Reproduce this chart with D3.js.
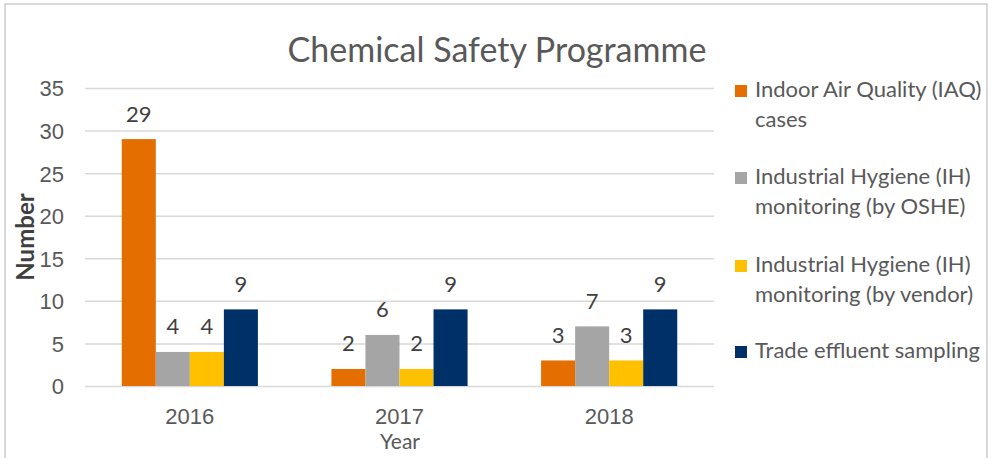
<!DOCTYPE html>
<html>
<head>
<meta charset="utf-8">
<script src="https://cdn.jsdelivr.net/npm/d3@7"></script>
<style>
	body { margin: 0; background: #fff; }
	svg { display: block; font-family: Lato, "Open Sans", sans-serif; }
	.axis path { display: none; }
	.y-axis line { stroke: #d9d9d9; stroke-width: 1.5; }
	.axis text { fill: #595959; font-size: 22px; }
	.x-axis line { display: none; }
</style>
</head>
<body>
<div id="chart"></div>
<script>
// chart data
const years = ["2016", "2017", "2018"];
const seriesNames = [
	"Indoor Air Quality (IAQ) cases",
	"Industrial Hygiene (IH) monitoring (by OSHE)",
	"Industrial Hygiene (IH) monitoring (by vendor)",
	"Trade effluent sampling"
];
// legend text split on two lines like the original
const legendLines = [
	["Indoor Air Quality (IAQ)", "cases"],
	["Industrial Hygiene (IH)", "monitoring (by OSHE)"],
	["Industrial Hygiene (IH)", "monitoring (by vendor)"],
	["Trade effluent sampling"]
];
const iaqValues = [29, 2, 3];
const ihOsheValues = [4, 6, 7];
const ihVendorValues = [4, 2, 3];
const effluentValues = [9, 9, 9];
const yTicks = [0, 5, 10, 15, 20, 25, 30, 35];
const colors = ["#e46f00", "#a5a5a5", "#ffc000", "#003068"];

const seriesValues = [iaqValues, ihOsheValues, ihVendorValues, effluentValues];

const width = 995, height = 458;
const margin = {top: 88, right: 281, bottom: 72, left: 85};

let svg = d3.select("#chart").append("svg")
	.attr("width", width)
	.attr("height", height);

// outer chart frame
svg.append("rect")
	.attr("x", 5).attr("y", 4)
	.attr("width", 982).attr("height", 470)
	.attr("fill", "none")
	.attr("stroke", "#d9d9d9")
	.attr("stroke-width", 2);

// scales
let y = d3.scaleLinear()
	.domain([0, 35])
	.range([height - margin.bottom, margin.top]);

let x0 = d3.scaleBand()
	.domain(years)
	.range([margin.left, width - margin.right])
	.padding(0);

let x1 = d3.scaleBand()
	.domain(d3.range(seriesNames.length))
	.range([0, x0.bandwidth()])
	.paddingInner(0)
	.paddingOuter(1.08);

// y axis doubles as gridlines
svg.append("g")
	.attr("class", "y-axis axis")
	.attr("transform", `translate(${margin.left},0)`)
	.call(d3.axisLeft(y)
		.tickValues(yTicks)
		.tickSize(-(width - margin.left - margin.right))
		.tickPadding(21))
	.selectAll("text")
	.attr("dy", "0.36em");

svg.append("g")
	.attr("class", "x-axis axis")
	.attr("transform", `translate(0,${height - margin.bottom})`)
	.call(d3.axisBottom(x0).tickSize(0).tickPadding(22))
	.selectAll("text")
	.attr("dy", "0.71em");

// bars
let groups = svg.selectAll(".year")
	.data(years)
	.enter().append("g")
	.attr("class", "year")
	.attr("transform", d => `translate(${x0(d)},0)`);

let cells = groups.selectAll("rect")
	.data((d, i) => seriesValues.map((vals, s) => ({s: s, v: vals[i]})))
	.enter();

cells.append("rect")
	.attr("x", d => x1(d.s))
	.attr("y", d => y(d.v))
	.attr("width", x1.bandwidth())
	.attr("height", d => y(0) - y(d.v))
	.attr("fill", d => colors[d.s]);

// value labels
cells.append("text")
	.attr("x", d => x1(d.s) + x1.bandwidth() / 2)
	.attr("y", d => y(d.v) - 17.5)
	.attr("text-anchor", "middle")
	.style("font-size", "22px")
	.style("fill", "#404040")
	.text(d => d.v);

// title
svg.append("text")
	.attr("x", 497)
	.attr("y", 62)
	.attr("text-anchor", "middle")
	.style("font-size", "34px")
	.style("fill", "#595959")
	.text("Chemical Safety Programme");

// axis titles
svg.append("text")
	.attr("transform", "translate(34,237) rotate(-90)")
	.attr("text-anchor", "middle")
	.style("font-size", "24px")
	.style("font-weight", "bold")
	.style("fill", "#404040")
	.text("Number");

svg.append("text")
	.attr("x", 400)
	.attr("y", 449)
	.attr("text-anchor", "middle")
	.style("font-size", "21px")
	.style("fill", "#595959")
	.text("Year");

// legend
const legendTop = [97, 184, 272, 358];
let legend = svg.selectAll(".legend")
	.data(legendLines)
	.enter().append("g")
	.attr("class", "legend")
	.attr("transform", (d, i) => `translate(735,${legendTop[i]})`);

legend.append("rect")
	.attr("x", 0)
	.attr("y", -12)
	.attr("width", 12)
	.attr("height", 12)
	.attr("fill", (d, i) => colors[i]);

legend.append("text")
	.attr("x", 20)
	.style("font-size", "22px")
	.style("fill", "#595959")
	.selectAll("tspan")
	.data(d => d)
	.enter().append("tspan")
	.attr("x", 20)
	.attr("y", (d, i) => i * 30)
	.text(d => d);
</script>
</body>
</html>
